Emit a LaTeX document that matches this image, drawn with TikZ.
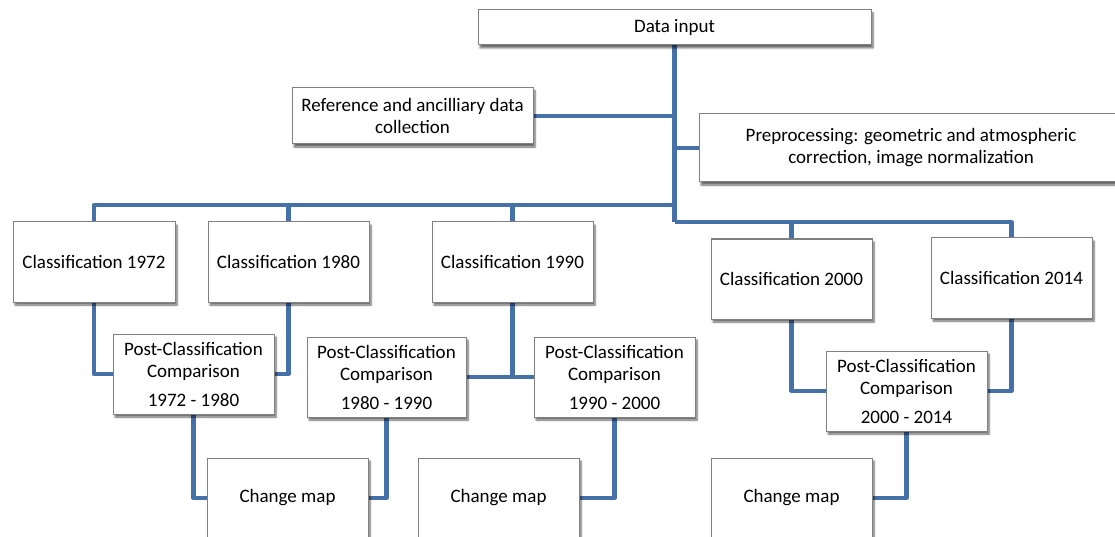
\documentclass[tikz,border=0pt]{standalone}
\usepackage{fontspec}
\setmainfont{Carlito}
\usetikzlibrary{shadows.blur,backgrounds}
\definecolor{linkblue}{RGB}{70,112,168}
\definecolor{boxgray}{RGB}{128,128,128}
\tikzset{
  box/.style={draw=boxgray, line width=1pt, fill=white, inner sep=0pt, align=center,
    font=\fontsize{19}{22}\selectfont,
    blur shadow={shadow xshift=2pt, shadow yshift=-3pt, shadow blur steps=6, shadow opacity=60}},
  conn/.style={draw=linkblue, line width=4.2pt, line join=round},
}
\begin{document}
\begin{tikzpicture}[x=1pt,y=-1pt]
\useasboundingbox (0,0) rectangle (1115,537);
% top
\node[box, minimum width=393pt, minimum height=35pt] (data) at (674.5,27.5) {Data input};
\node[box, minimum width=241pt, minimum height=56pt] (ref) at (412.5,116) {Reference and ancilliary data\\collection};
\node[box, minimum width=424pt, minimum height=68pt] (pre) at (911,148) {Preprocessing: geometric and atmospheric\\correction, image normalization};
% classifications
\node[box, minimum width=162pt, minimum height=80pt] (c1972) at (94,262) {Classification 1972};
\node[box, minimum width=161pt, minimum height=80pt] (c1980) at (288.5,262) {Classification 1980};
\node[box, minimum width=161pt, minimum height=80pt] (c1990) at (512.5,262) {Classification 1990};
\node[box, minimum width=161pt, minimum height=80pt] (c2000) at (791.5,279) {Classification 2000};
\node[box, minimum width=161pt, minimum height=80pt] (c2014) at (1011.5,278) {Classification 2014};
% post-classification comparisons
\node[box, minimum width=161pt, minimum height=80pt] (pc1) at (193.5,374) {Post-Classification\\Comparison\\[7pt]1972 - 1980};
\node[box, minimum width=159pt, minimum height=80pt] (pc2) at (386.5,377) {Post-Classification\\Comparison\\[7pt]1980 - 1990};
\node[box, minimum width=161pt, minimum height=80pt] (pc3) at (614.5,377) {Post-Classification\\Comparison\\[7pt]1990 - 2000};
\node[box, minimum width=161pt, minimum height=80pt] (pc4) at (906.5,391) {Post-Classification\\Comparison\\[7pt]2000 - 2014};
% change maps
\node[box, minimum width=161pt, minimum height=80pt] (cm1) at (287.5,498) {Change map};
\node[box, minimum width=161pt, minimum height=80pt] (cm2) at (498.5,498) {Change map};
\node[box, minimum width=161pt, minimum height=80pt] (cm3) at (791.5,498) {Change map};
\coordinate (j1) at (674.5,205);
\coordinate (j2) at (674.5,222);
\begin{pgfonlayer}{background}
\draw[conn] (data.south) -- (j2);
\draw[conn] (ref.east) -- (ref.east -| j1);
\draw[conn] (pre.west) -- (pre.west -| j1);
\draw[conn] (c1972.north) |- (j1);
\draw[conn] (c1980.north) -- (c1980.north |- j1);
\draw[conn] (c1990.north) -- (c1990.north |- j1);
\draw[conn] (j2) -| (c2014.north);
\draw[conn] (c2000.north) -- (c2000.north |- j2);
\draw[conn] (c1972.south) |- (pc1.west);
\draw[conn] (c1980.south) |- (pc1.east);
\draw[conn] (pc2.east) -- (pc3.west);
\draw[conn] (c1990.south) -- (c1990.south |- pc2.east);
\draw[conn] (c2000.south) |- (pc4.west);
\draw[conn] (c2014.south) |- (pc4.east);
\draw[conn] (pc1.south) |- (cm1.west);
\draw[conn] (pc2.south) |- (cm1.east);
\draw[conn] (pc3.south) |- (cm2.east);
\draw[conn] (pc4.south) |- (cm3.east);
\end{pgfonlayer}
\end{tikzpicture}
\end{document}
